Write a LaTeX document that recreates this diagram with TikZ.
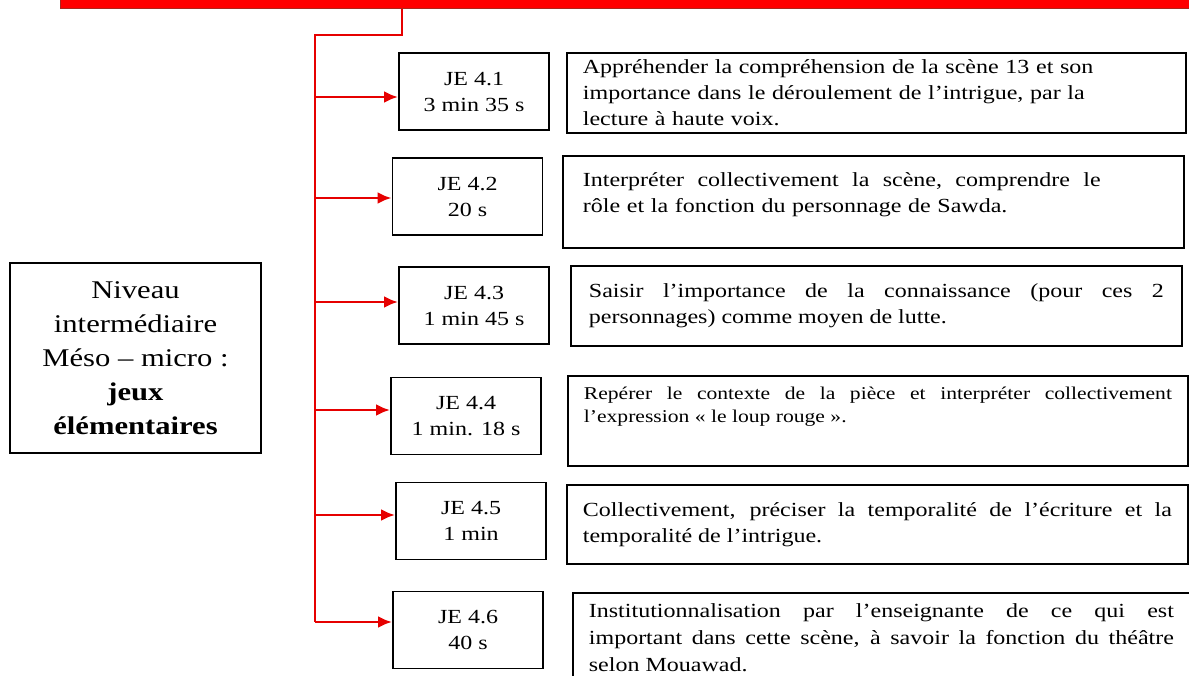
\documentclass[tikz,border=0pt]{standalone}
\usepackage{fontspec}
\setmainfont[FakeStretch=1.2]{Liberation Serif}
\usetikzlibrary{arrows.meta, positioning}

\definecolor{linkred}{RGB}{230,0,0}
\definecolor{barred}{RGB}{255,0,0}
\definecolor{baredge}{RGB}{170,40,30}

\tikzset{
	jebox/.style={draw, line width=1.8pt, minimum width=150pt, minimum height=77pt,
		align=center, font=\fontsize{20}{26}\selectfont},
	descbox/.style={draw, line width=1.8pt, anchor=north west, inner xsep=16pt,
		inner ysep=4pt, align=justify, font=\fontsize{20}{26}\selectfont},
	levelbox/.style={draw, line width=1.8pt, minimum width=251pt, minimum height=190pt,
		align=center, font=\fontsize{25.5}{34}\selectfont},
	wire/.style={linkred, line width=2.8pt},
	link/.style={linkred, line width=2.8pt, -{Latex[length=14pt,width=12pt]}},
}

\begin{document}
\begin{tikzpicture}[x=1pt, y=-1pt]
	\useasboundingbox (0,0) rectangle (1189,675);

	% top bar
	\node[fill=barred, draw=baredge, line width=0.8pt, anchor=south west,
		minimum width=1150pt, minimum height=30pt, inner sep=0pt] (bar) at (60,9) {};

	% level box
	\node[levelbox] (level) at (135.5,358) {Niveau\\ intermédiaire\\ Méso – micro :\\
		\textbf{jeux}\\ \textbf{élémentaires}};

	% elementary games
	\node[jebox] (je1) at (474,91.5) {JE 4.1\\ 3 min 35 s};
	\node[jebox] (je2) at (467.5,196.5) {JE 4.2\\ 20 s};
	\node[jebox] (je3) at (474,305.5) {JE 4.3\\ 1 min 45 s};
	\node[jebox] (je4) at (466,416) {JE 4.4\\ 1 min. 18 s};
	\node[jebox] (je5) at (471,521) {JE 4.5\\ 1 min};
	\node[jebox] (je6) at (468,630) {JE 4.6\\ 40 s};

	% descriptions
	\node[descbox, align=left, text width=587pt, minimum height=80pt] (d1) at (566,52)
		{Appréhender la compréhension de la scène 13 et son\\ importance dans le
		déroulement de l'intrigue, par la\\ lecture à haute voix.};
	\node[descbox, align=left, inner xsep=20pt, text width=581pt, minimum height=92pt] (d2) at (562,155)
		{Interpréter \ collectivement \ la \ scène, \ comprendre \ le\\ rôle et la fonction
		du personnage de Sawda.\rule[-18pt]{0pt}{18pt}};
	\node[descbox, inner xsep=18pt, text width=575pt, minimum height=80pt] (d3) at (570,265)
		{Saisir l'importance de la connaissance (pour ces 2\linebreak personnages) comme
		moyen de lutte.};
	\node[descbox, font=\fontsize{18}{23}\selectfont, text width=588pt, minimum height=90pt] (d4) at (567,375)
		{Repérer le contexte de la pièce et interpréter collectivement\linebreak
		l'expression « le loup rouge ».\\[10pt]};
	\node[descbox, text width=589pt, minimum height=79pt] (d5) at (566,484)
		{Collectivement, préciser la temporalité de l’écriture et la\linebreak
		temporalité de l’intrigue.};
	\node[descbox, font=\fontsize{20}{27}\selectfont, text width=585pt, minimum height=90pt] (d6) at (572,592)
		{Institutionnalisation par l’enseignante de ce qui est\linebreak important dans
		cette scène, à savoir la fonction du théâtre\linebreak selon Mouawad.};

	% connectors
	\coordinate (drop) at (402,9);
	\coordinate (t0) at (315,35);
	\coordinate (t1) at (315,97);
	\coordinate (t2) at (315,198);
	\coordinate (t3) at (315,302);
	\coordinate (t4) at (315,410);
	\coordinate (t5) at (315,515);
	\coordinate (t6) at (315,622);

	\draw[wire] (drop) |- (t0) -- (t6);

	\path
	(t1) edge[link] (t1 -| je1.west)
	(t2) edge[link] (t2 -| je2.west)
	(t3) edge[link] (t3 -| je3.west)
	(t4) edge[link] (t4 -| je4.west)
	(t5) edge[link] (t5 -| je5.west)
	(t6) edge[link] (t6 -| je6.west);

\end{tikzpicture}
\end{document}
